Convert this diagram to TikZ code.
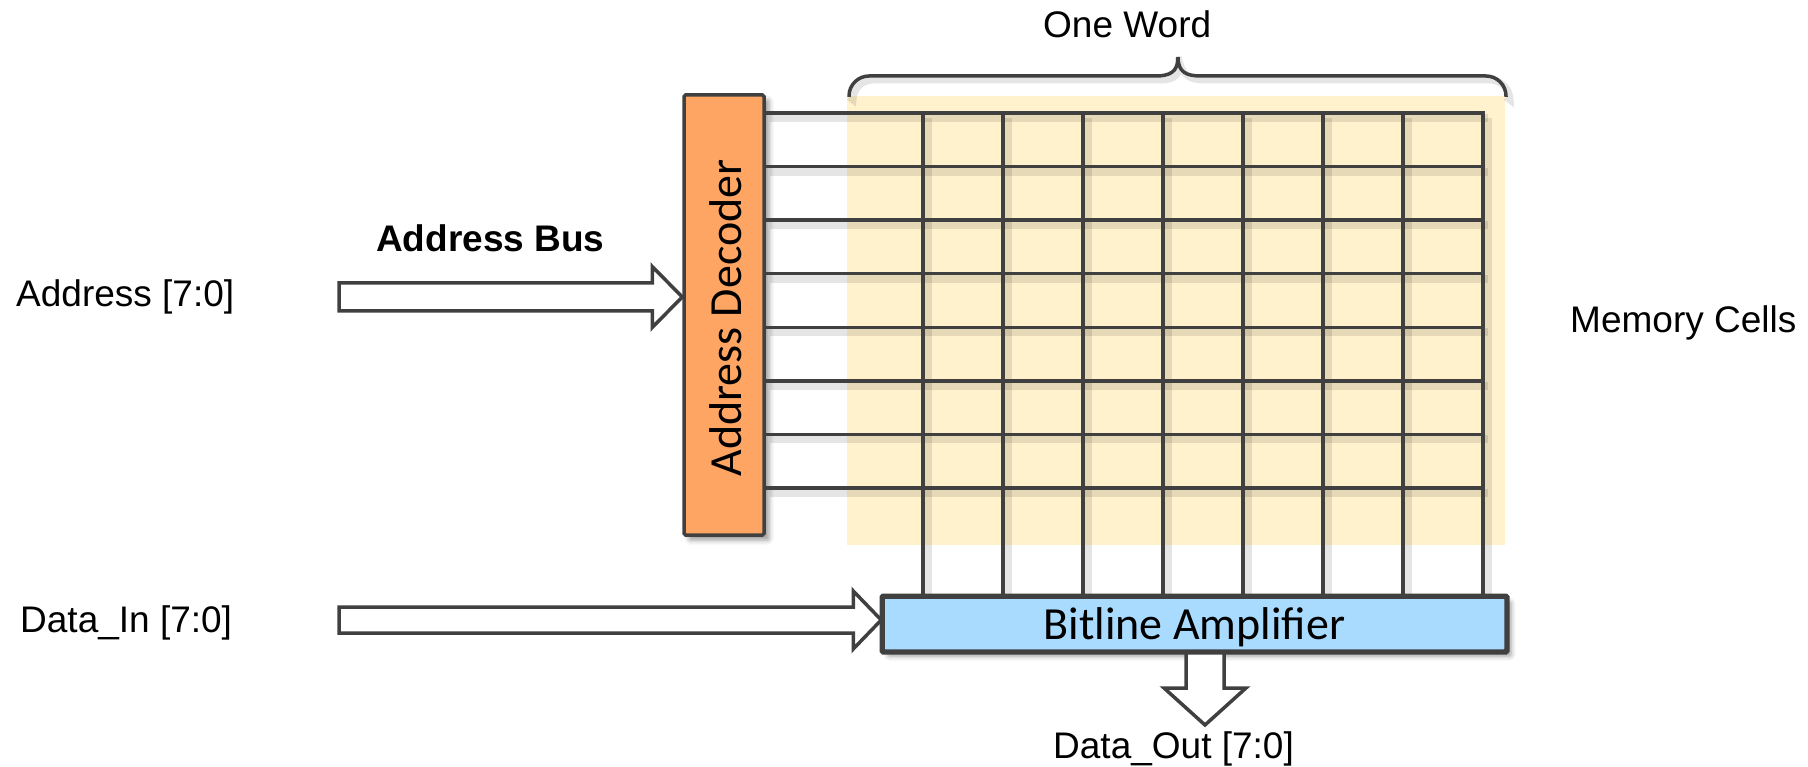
\documentclass[tikz,border=0pt]{standalone}
\usepackage{fontspec}
\setmainfont{Liberation Sans}
\newfontfamily\calibrifont{Carlito}
\usetikzlibrary{calc,shadows.blur}
\definecolor{lineC}{HTML}{404040}
\definecolor{decC}{HTML}{FFA564}
\definecolor{cellC}{HTML}{FFF2CC}
\definecolor{ampC}{HTML}{A9DBFE}
\tikzset{
  lbl/.style={font=\fontsize{37}{44}\selectfont, inner sep=0pt, anchor=base west},
  boldlbl/.style={font=\bfseries\fontsize{37}{44}\selectfont, inner sep=0pt, anchor=base west},
  boxtext/.style={font=\calibrifont\fontsize{46}{52}\selectfont, inner sep=0pt},
  box/.style={draw=lineC, line width=3.5pt, rounded corners=1.5pt, inner sep=0pt,
    blur shadow={shadow xshift=5pt, shadow yshift=-5pt, shadow blur radius=5pt, shadow opacity=40}},
  wire/.style={draw=lineC, line width=3.5pt, line cap=rect},
  wireshadow/.style={draw=black, opacity=0.10, line width=8pt},
  hollow/.style={draw=lineC, line width=3.5pt, fill=white, line join=miter},
}
\begin{document}
\begin{tikzpicture}[x=1pt,y=-1pt]
\useasboundingbox (0,0) rectangle (1808,767);

% memory cell background
\node[fill=cellC, minimum width=658pt, minimum height=449pt, inner sep=0pt] (cells) at (1176,320.5) {};

% boxes
\node[box, fill=decC, minimum width=80pt, minimum height=440pt] (dec) at (724,315) {};
\node[boxtext, rotate=90] (dectext) at (726,318) {Address Decoder};
\node[box, fill=ampC, minimum width=623pt, minimum height=54pt] (amp) at (1194.5,624) {};
\node[boxtext, anchor=base] (amptext) at (1194.5,639) {Bitline Amplifier};

% word line / bit line coordinates
\foreach \i in {0,...,7} {
  \pgfmathsetmacro\yy{113+53.57*\i}
  \coordinate (w\i) at (1483,\yy);
}
\foreach \j in {0,...,7} {
  \pgfmathsetmacro\xx{923+80*\j}
  \coordinate (b\j) at (\xx,113);
}

% shadows of the grid
\foreach \i in {0,...,7} {
  \draw[wireshadow] ($(dec.east |- w\i)+(4,5)$) -- ($(w\i)+(5,5)$);
}
\foreach \j in {0,...,7} {
  \draw[wireshadow] ($(b\j)+(5,5)$) -- ($(b\j |- amp.north)+(5,0)$);
}

% word lines
\foreach \i in {0,...,7} {
  \draw[wire] (dec.east |- w\i) -- (w\i);
}
% bit lines
\foreach \j in {0,...,7} {
  \draw[wire] (b\j) -- (b\j |- amp.north);
}
% redraw amplifier border on top of bit lines
\draw[draw=lineC, line width=3.5pt, rounded corners=1.5pt] (amp.south west) rectangle (amp.north east);

% brace
\coordinate (brL) at (849,97);
\coordinate (brR) at (1506,97);
\coordinate (brT) at (1178,57);
\draw[draw=black, opacity=0.10, line width=7pt, shift={(4,4)}]
  (brL) -- (849,96) .. controls (849,85) and (858,76) .. (869,76) -- (1155,76)
  .. controls (1170,76) and (1178,72) .. (brT)
  .. controls (1178,72) and (1186,76) .. (1201,76) -- (1486,76)
  .. controls (1497,76) and (1506,85) .. (1506,96) -- (brR);
\draw[draw=lineC, line width=3.5pt]
  (brL) -- (849,96) .. controls (849,85) and (858,76) .. (869,76) -- (1155,76)
  .. controls (1170,76) and (1178,72) .. (brT)
  .. controls (1178,72) and (1186,76) .. (1201,76) -- (1486,76)
  .. controls (1497,76) and (1506,85) .. (1506,96) -- (brR);

% address bus arrow
\coordinate (aTail) at (339,297);
\coordinate (aTip) at (dec.west |- aTail);
\draw[hollow] ($(aTail)+(0,-14)$) -- ($(aTip)+(-30,-14)$) -- ($(aTip)+(-30,-30.5)$) -- (aTip)
  -- ($(aTip)+(-30,30.5)$) -- ($(aTip)+(-30,14)$) -- ($(aTail)+(0,14)$) -- cycle;

% data in arrow
\coordinate (dTail) at (339,620);
\coordinate (dTip) at (amp.west |- dTail);
\draw[hollow] ($(dTail)+(0,-13)$) -- ($(dTip)+(-28,-13)$) -- ($(dTip)+(-28,-29)$) -- (dTip)
  -- ($(dTip)+(-28,29)$) -- ($(dTip)+(-28,13)$) -- ($(dTail)+(0,13)$) -- cycle;

% data out arrow
\coordinate (oTail) at (amp.south -| 1205,0);
\coordinate (oTip) at (1205,725);
\draw[hollow] ($(oTail)+(-19,0)$) -- ($(oTip)+(-19,-37)$) -- ($(oTip)+(-41,-37)$) -- (oTip)
  -- ($(oTip)+(41,-37)$) -- ($(oTip)+(19,-37)$) -- ($(oTail)+(19,0)$) -- cycle;

% labels
\node[lbl] (addrlbl) at (16,307) {Address [7:0]};
\node[boldlbl] (buslbl) at (376,252) {Address Bus};
\node[lbl] (dinlbl) at (20,632) {Data\_In [7:0]};
\node[lbl] (doutlbl) at (1053,758) {Data\_Out [7:0]};
\node[lbl] (memlbl) at (1570,333) {Memory Cells};
\node[lbl] (wordlbl) at (1043,38) {One Word};
\end{tikzpicture}
\end{document}
